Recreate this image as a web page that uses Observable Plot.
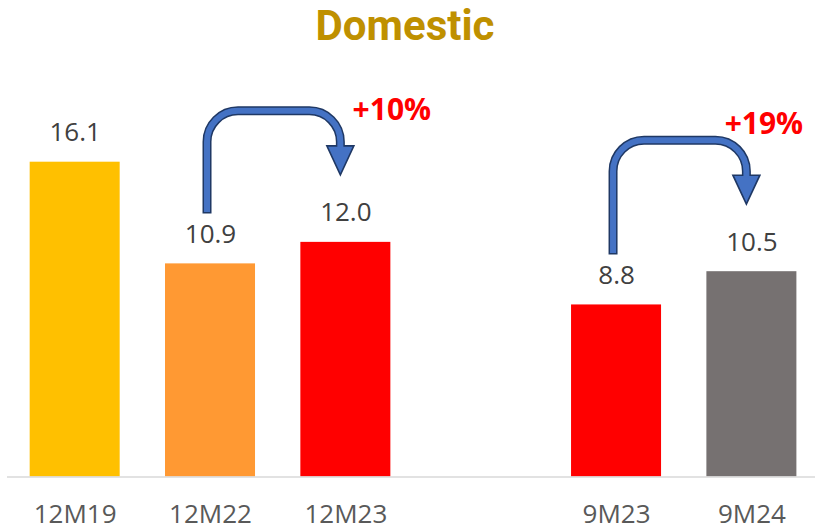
<!DOCTYPE html>
<html>
<head>
<meta charset="utf-8">
<script src="https://cdn.jsdelivr.net/npm/d3@7"></script>
<script src="https://cdn.jsdelivr.net/npm/@observablehq/plot@0.6"></script>
<style>
  html, body { margin: 0; padding: 0; background: #fff; overflow: hidden; }
  #chart svg { display: block; }
</style>
</head>
<body>
<div id="chart"></div>
<script>
// ---- data ----
const title = "Domestic";
const categories = ["12M19", "12M22", "12M23", "", "9M23", "9M24"];
const values = [16.1, 10.9, 12.0, null, 8.8, 10.5];
const barColors = ["#FFC000", "#FF9933", "#FF0000", null, "#FF0000", "#767171"];
const changeFrom = ["12M22", "9M23"];
const changeTo = ["12M23", "9M24"];
const changeLabels = ["+10%", "+19%"];

// ---- derived ----
const idx = categories.map((c, i) => i).filter(i => values[i] != null);
const arrows = changeFrom.map((f, k) => ({
  from: categories.indexOf(f),
  to: categories.indexOf(changeTo[k]),
  label: changeLabels[k],
  k
}));
// annotation offsets of the change labels relative to the target bar top (px)
const labelOffsets = [{dx: 46, dy: -122}, {dx: 12, dy: -138}];

const FONT = "'Open Sans', 'Noto Sans', sans-serif";
const half = 0.3325;

function arrowMark(index, scales) {
  const {x, y} = scales;
  const ns = "http://www.w3.org/2000/svg";
  const g = document.createElementNS(ns, "g");
  for (const a of arrows) {
    const sx = x(a.from) - 3;
    const hx = x(a.to) - 5;
    const yb = y(values[a.from]) - 50;
    const yt = y(values[a.to]) - 131;
    const tip = y(values[a.to]) - 67;
    const base = tip - 29;
    const r = 31;
    const build = (y0, y1) => {
      const p = d3.path();
      p.moveTo(sx, y0);
      p.lineTo(sx, yt + r);
      p.arcTo(sx, yt, sx + r, yt, r);
      p.lineTo(hx - r, yt);
      p.arcTo(hx, yt, hx, yt + r, r);
      p.lineTo(hx, y1);
      return p.toString();
    };
    const outline = document.createElementNS(ns, "path");
    outline.setAttribute("d", build(yb, base));
    outline.setAttribute("fill", "none");
    outline.setAttribute("stroke", "#1F3864");
    outline.setAttribute("stroke-width", 9);
    g.appendChild(outline);
    const head = document.createElementNS(ns, "path");
    head.setAttribute("d", `M${hx - 13.5},${base}L${hx + 13.5},${base}L${hx},${tip}Z`);
    head.setAttribute("fill", "#4472C4");
    head.setAttribute("stroke", "#1F3864");
    head.setAttribute("stroke-width", 1.6);
    g.appendChild(head);
    const inner = document.createElementNS(ns, "path");
    inner.setAttribute("d", build(yb - 1.5, base + 2));
    inner.setAttribute("fill", "none");
    inner.setAttribute("stroke", "#4472C4");
    inner.setAttribute("stroke-width", 6);
    g.appendChild(inner);
  }
  return g;
}

const changeLabelMarks = arrows.map(a => Plot.text([a], {
  x: d => d.to,
  y: d => values[d.to],
  text: d => d.label,
  dx: labelOffsets[a.k].dx,
  dy: labelOffsets[a.k].dy,
  lineAnchor: "bottom",
  fontSize: 30,
  fontWeight: "bold",
  fill: "#FF0000"
}));

const chart = Plot.plot({
  width: 815,
  height: 530,
  marginTop: 0,
  marginBottom: 53.5,
  marginLeft: 7,
  marginRight: 0,
  style: {fontFamily: FONT, background: "#fff", overflow: "visible"},
  x: {domain: [-0.5, 5.47], axis: null},
  y: {domain: [0, 24.37], axis: null},
  color: {type: "identity"},
  marks: [
    Plot.rectY(idx, {
      x1: i => i - half,
      x2: i => i + half,
      y: i => values[i],
      fill: i => barColors[i]
    }),
    Plot.ruleY([0], {stroke: "#D9D9D9", strokeWidth: 1.5}),
    Plot.text(idx, {
      x: i => i,
      y: i => values[i],
      text: i => values[i].toFixed(1),
      lineAnchor: "bottom",
      dy: -21,
      fontSize: 26,
      fill: "#404040"
    }),
    Plot.text(idx, {
      x: i => i,
      y: 0,
      text: i => categories[i],
      lineAnchor: "bottom",
      dy: 45.5,
      fontSize: 26,
      fill: "#595959"
    }),
    arrowMark,
    ...changeLabelMarks,
    Plot.text([title], {
      frameAnchor: "top",
      lineAnchor: "bottom",
      dx: -6.5,
      dy: 39,
      text: d => d,
      fontSize: 42,
      fontWeight: "bold",
      fontFamily: "Roboto, 'Open Sans', sans-serif",
      fill: "#BF9000"
    })
  ]
});
document.getElementById("chart").appendChild(chart);
</script>
</body>
</html>
